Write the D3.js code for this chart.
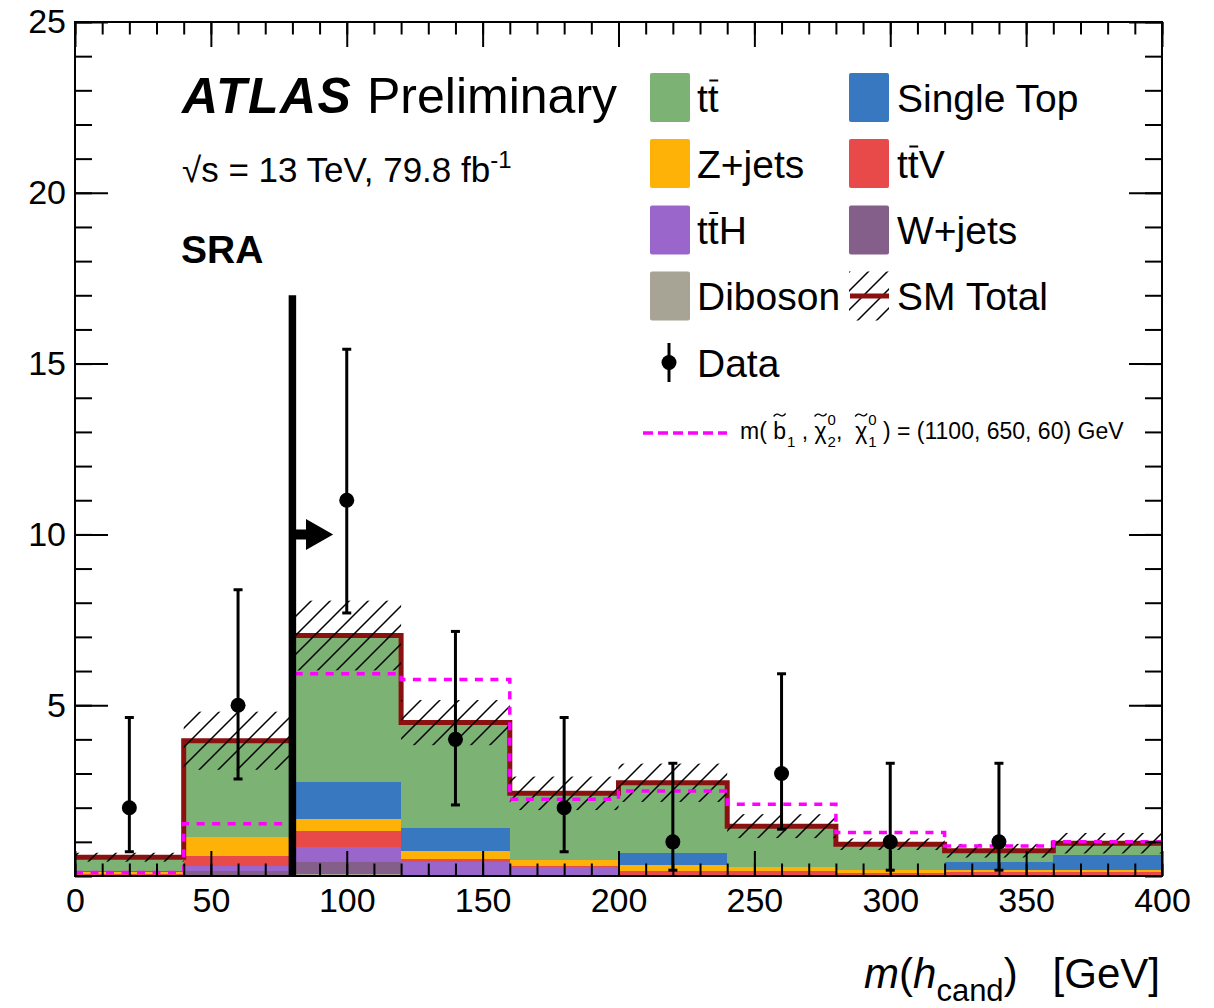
<!DOCTYPE html>
<html><head><meta charset="utf-8">
<script src="https://cdn.jsdelivr.net/npm/d3@7"></script>
<style>
body{margin:0;background:#fff;}
svg{display:block;font-family:"Liberation Sans",Arial,Helvetica,sans-serif;}
text{white-space:pre;}
</style></head><body>
<svg id="c" width="1214" height="1008"></svg>
<script>
// m(h_cand) distribution in SRA, 40 GeV bins
const binEdges  = [0, 40, 80, 120, 160, 200, 240, 280, 320, 360, 400];

// SM backgrounds (events per bin)
const ttbar     = [0.41, 2.81, 4.29, 3.09, 1.95, 2.07, 1.21, 0.74, 0.32, 0.34];
const singleTop = [0.02, 0.00, 1.07, 0.67, 0.00, 0.33, 0.00, 0.00, 0.23, 0.43];
const zjets     = [0.07, 0.56, 0.36, 0.23, 0.19, 0.18, 0.10, 0.10, 0.06, 0.06];
const ttV       = [0.03, 0.31, 0.47, 0.10, 0.03, 0.12, 0.12, 0.07, 0.10, 0.10];
const ttH       = [0.01, 0.13, 0.45, 0.38, 0.23, 0.02, 0.02, 0.01, 0.02, 0.02];
const wjets     = [0.00, 0.13, 0.35, 0.00, 0.00, 0.00, 0.00, 0.00, 0.00, 0.00];
const diboson   = [0.01, 0.02, 0.05, 0.02, 0.02, 0.01, 0.01, 0.01, 0.01, 0.01];
// total SM uncertainty (half width of the hatched band)
const smUnc     = [0.13, 0.85, 1.02, 0.66, 0.49, 0.56, 0.35, 0.17, 0.20, 0.30];

// signal point m(b1, chi2, chi1) = (1100, 650, 60) GeV
const signal    = [0.10, 1.53, 5.92, 5.75, 2.25, 2.49, 2.10, 1.27, 0.88, 1.00];

// observed data with asymmetric Poisson errors (null = empty bin)
const dataCounts  = [2, 5, 11, 4, 2, 1, 3, 1, 1, null];
const dataErrLow  = [1.29, 2.16, 3.30, 1.92, 1.29, 0.83, 1.63, 0.83, 0.83, null];
const dataErrHigh = [2.64, 3.38, 4.42, 3.16, 2.64, 2.30, 2.92, 2.30, 2.30, null];

// selection cut and arrow
const cutValue = 80, cutTop = 17, arrowY = 10, arrowHeadBase = 85, arrowTip = 95;

const xTicksMajor = d3.range(0, 401, 50);
const xTicksMinor = d3.range(0, 401, 10);
const yTicksMajor = [5, 10, 15, 20, 25];
const yTicksMinor = d3.range(0, 26, 1);

const keys = ["diboson", "wjets", "ttH", "ttV", "zjets", "singleTop", "ttbar"];
const series = {ttbar, singleTop, zjets, ttV, ttH, wjets, diboson};
const colors = {
  ttbar: "#7cb274", singleTop: "#3878c0", zjets: "#feb106", ttV: "#e84a4a",
  ttH: "#9a66cc", wjets: "#835f8a", diboson: "#a8a495"
};
const smColor = "#8b1111", sigColor = "#ff00ff";

const svg = d3.select("#c");
const x = d3.scaleLinear().domain([0, 400]).range([75, 1162]);
const y = d3.scaleLinear().domain([0, 25]).range([876, 22]);

const defs = svg.append("defs");
defs.append("clipPath").attr("id", "plot").append("rect")
  .attr("x", x(0)).attr("y", y(25)).attr("width", x(400) - x(0)).attr("height", y(0) - y(25));
const pat = defs.append("pattern").attr("id", "hatch").attr("patternUnits", "userSpaceOnUse")
  .attr("width", 19).attr("height", 19);
pat.append("path").attr("d", "M-2,2 l4,-4 M0,19 l19,-19 M17,21 l4,-4")
  .attr("stroke", "#000").attr("stroke-width", 1.5);

const rows = binEdges.slice(0, -1).map((lo, i) => {
  const r = {lo, hi: binEdges[i + 1]};
  keys.forEach(k => r[k] = series[k][i]);
  return r;
});
const totals = rows.map(r => d3.sum(keys, k => r[k]));

const plot = svg.append("g").attr("clip-path", "url(#plot)");

// stacked backgrounds
const stacked = d3.stack().keys(keys)(rows);
plot.append("g").selectAll("g").data(stacked).join("g")
  .attr("fill", d => colors[d.key])
  .selectAll("rect").data(d => d).join("rect")
  .attr("shape-rendering", "crispEdges")
  .attr("x", d => x(d.data.lo)).attr("width", d => x(d.data.hi) - x(d.data.lo))
  .attr("y", d => y(d[1])).attr("height", d => y(d[0]) - y(d[1]));

// step outline helper
const stepPts = vals => binEdges.map((e, i) => [x(e), y(vals[Math.min(i, vals.length - 1)])]);
const stepLine = d3.line().curve(d3.curveStepAfter);

// SM total line
plot.append("path").attr("d", stepLine(stepPts(totals)))
  .attr("fill", "none").attr("stroke", smColor).attr("stroke-width", 5);

// hatched uncertainty band
plot.append("g").selectAll("rect").data(rows).join("rect")
  .attr("x", d => x(d.lo)).attr("width", d => x(d.hi) - x(d.lo))
  .attr("y", (d, i) => y(totals[i] + smUnc[i]))
  .attr("height", (d, i) => y(totals[i] - smUnc[i]) - y(totals[i] + smUnc[i]))
  .attr("fill", "url(#hatch)");

// signal overlay
plot.append("path").attr("d", stepLine(stepPts(signal)))
  .attr("fill", "none").attr("stroke", sigColor).attr("stroke-width", 3.5)
  .attr("stroke-dasharray", "8,7.5");

// data points
const dataPts = rows.map((r, i) => ({c: (r.lo + r.hi) / 2, n: dataCounts[i], lo: dataErrLow[i], hi: dataErrHigh[i]}))
  .filter(d => d.n !== null);
const dg = plot.append("g");
dg.selectAll("line.err").data(dataPts).join("line").attr("class", "err")
  .attr("x1", d => x(d.c)).attr("x2", d => x(d.c))
  .attr("y1", d => y(d.n - d.lo)).attr("y2", d => y(d.n + d.hi))
  .attr("stroke", "#000").attr("stroke-width", 3);
["lo", "hi"].forEach(side => {
  dg.selectAll("line.cap" + side).data(dataPts).join("line").attr("class", "cap" + side)
    .attr("x1", d => x(d.c) - 4.5).attr("x2", d => x(d.c) + 4.5)
    .attr("y1", d => y(side === "lo" ? d.n - d.lo : d.n + d.hi))
    .attr("y2", d => y(side === "lo" ? d.n - d.lo : d.n + d.hi))
    .attr("stroke", "#000").attr("stroke-width", 3);
});
dg.selectAll("circle").data(dataPts).join("circle")
  .attr("cx", d => x(d.c)).attr("cy", d => y(d.n)).attr("r", 7.5).attr("fill", "#000");

// cut line and arrow
plot.append("line").attr("x1", x(cutValue)).attr("x2", x(cutValue))
  .attr("y1", y(0)).attr("y2", y(cutTop)).attr("stroke", "#000").attr("stroke-width", 7.5);
const ay = y(arrowY);
plot.append("path").attr("fill", "#000").attr("d",
  `M${x(cutValue)},${ay - 5}L${x(arrowHeadBase)},${ay - 5}L${x(arrowHeadBase)},${ay - 15.5}` +
  `L${x(arrowTip)},${ay}L${x(arrowHeadBase)},${ay + 15.5}L${x(arrowHeadBase)},${ay + 5}L${x(cutValue)},${ay + 5}Z`);

// axes
const axG = svg.append("g");
function styleAxis(g) {
  g.select(".domain").remove();
  g.selectAll(".tick line").attr("stroke", "#000").attr("stroke-width", 2);
  g.selectAll(".tick text").attr("fill", "#000").attr("font-size", 34)
    .attr("font-family", "Liberation Sans, Arial, sans-serif");
}
axG.append("g").attr("transform", `translate(0,${y(0)})`)
  .call(d3.axisBottom(x).tickValues(xTicksMajor).tickSize(-25).tickPadding(12).tickFormat(d3.format("d")))
  .call(styleAxis);
axG.append("g").attr("transform", `translate(0,${y(0)})`)
  .call(d3.axisBottom(x).tickValues(xTicksMinor).tickSize(-12.5).tickFormat("")).call(styleAxis);
axG.append("g").attr("transform", `translate(0,${y(25)})`)
  .call(d3.axisTop(x).tickValues(xTicksMajor).tickSize(-25).tickFormat("")).call(styleAxis);
axG.append("g").attr("transform", `translate(0,${y(25)})`)
  .call(d3.axisTop(x).tickValues(xTicksMinor).tickSize(-12.5).tickFormat("")).call(styleAxis);
axG.append("g").attr("transform", `translate(${x(0)},0)`)
  .call(d3.axisLeft(y).tickValues(yTicksMajor).tickSize(-33).tickPadding(9).tickFormat(d3.format("d")))
  .call(styleAxis);
axG.append("g").attr("transform", `translate(${x(0)},0)`)
  .call(d3.axisLeft(y).tickValues(yTicksMinor).tickSize(-17).tickFormat("")).call(styleAxis);
axG.append("g").attr("transform", `translate(${x(400)},0)`)
  .call(d3.axisRight(y).tickValues(yTicksMajor).tickSize(-33).tickFormat("")).call(styleAxis);
axG.append("g").attr("transform", `translate(${x(400)},0)`)
  .call(d3.axisRight(y).tickValues(yTicksMinor).tickSize(-17).tickFormat("")).call(styleAxis);
svg.append("rect").attr("x", x(0)).attr("y", y(25)).attr("width", x(400) - x(0)).attr("height", y(0) - y(25))
  .attr("fill", "none").attr("stroke", "#000").attr("stroke-width", 2);

// axis title
const xt = svg.append("text").attr("x", 1160).attr("y", 988).attr("text-anchor", "end").attr("font-size", 42);
xt.append("tspan").attr("font-style", "italic").text("m");
xt.append("tspan").text("(");
xt.append("tspan").attr("font-style", "italic").text("h");
xt.append("tspan").attr("font-size", 31).attr("dy", 13).text("cand");
xt.append("tspan").attr("dy", -13).text(")   [GeV]");

// ATLAS label
svg.append("text").attr("x", 182).attr("y", 113).attr("font-size", 50).attr("letter-spacing", 1.5)
  .attr("font-weight", "bold").attr("font-style", "italic").text("ATLAS");
svg.append("text").attr("x", 367).attr("y", 113).attr("font-size", 50).text("Preliminary");
const lum = svg.append("text").attr("x", 182).attr("y", 182).attr("font-size", 35);
lum.append("tspan").text("√s = 13 TeV, 79.8 fb");
lum.append("tspan").attr("font-size", 24).attr("dy", -14).text("-1");
svg.append("text").attr("x", 181).attr("y", 263).attr("font-size", 39).attr("font-weight", "bold").text("SRA");

// legend
const leg = svg.append("g");
const legRows = [97.5, 163.5, 230, 296, 362.5];
const colBox = [650, 849], colText = [697, 897];
const legItems = [
  {label: "tt", bar: 1, key: "ttbar", col: 0, row: 0},
  {label: "Single Top", key: "singleTop", col: 1, row: 0},
  {label: "Z+jets", key: "zjets", col: 0, row: 1},
  {label: "ttV", bar: 1, key: "ttV", col: 1, row: 1},
  {label: "ttH", bar: 1, key: "ttH", col: 0, row: 2},
  {label: "W+jets", key: "wjets", col: 1, row: 2},
  {label: "Diboson", key: "diboson", col: 0, row: 3},
  {label: "SM Total", key: "sm", col: 1, row: 3},
  {label: "Data", key: "data", col: 0, row: 4}
];
legItems.forEach(it => {
  const cy = legRows[it.row], bx = colBox[it.col];
  if (colors[it.key]) {
    leg.append("rect").attr("x", bx).attr("y", cy - 24.5).attr("width", 40).attr("height", 49)
      .attr("rx", 2).attr("fill", colors[it.key]);
  } else if (it.key === "sm") {
    leg.append("rect").attr("x", bx).attr("y", cy - 24.5).attr("width", 40).attr("height", 49)
      .attr("fill", "url(#hatch)");
    leg.append("line").attr("x1", bx + 1).attr("x2", bx + 40).attr("y1", cy).attr("y2", cy)
      .attr("stroke", smColor).attr("stroke-width", 5);
  } else if (it.key === "data") {
    leg.append("line").attr("x1", bx + 19).attr("x2", bx + 19).attr("y1", cy - 19.5).attr("y2", cy + 19.5)
      .attr("stroke", "#000").attr("stroke-width", 3);
    leg.append("circle").attr("cx", bx + 19).attr("cy", cy).attr("r", 7.5).attr("fill", "#000");
  }
  const t = leg.append("text").attr("x", colText[it.col]).attr("y", cy + 14).attr("font-size", 39).text(it.label);
  if (it.bar) {
    const n = t.node();
    const sx = colText[it.col] + n.getSubStringLength(0, 1);
    const w = n.getSubStringLength(1, 1);
    leg.append("line").attr("x1", sx + 1.5).attr("x2", sx + w - 0.5)
      .attr("y1", cy - 17).attr("y2", cy - 17).attr("stroke", "#000").attr("stroke-width", 2);
  }
});

// signal legend entry
leg.append("line").attr("x1", 643).attr("x2", 727).attr("y1", 433).attr("y2", 433)
  .attr("stroke", sigColor).attr("stroke-width", 3.5).attr("stroke-dasharray", "10,5");
(function sigLabel(x0, base) {
  const fs = 23, ss = 15;
  let cx = x0;
  const pieces = [
    {t: "m( "}, {t: "b", tilde: 1}, {sub: "1"}, {t: " , "}, {t: "χ", tilde: 1}, {sup: "0", sub: "2"},
    {t: ",  "}, {t: "χ", tilde: 1}, {sup: "0", sub: "1"}, {t: " ) = (1100, 650, 60) GeV"}
  ];
  pieces.forEach(p => {
    if (p.t) {
      const e = leg.append("text").attr("x", cx).attr("y", base).attr("font-size", fs).text(p.t);
      const w = e.node().getComputedTextLength();
      if (p.tilde) {
        const mx = cx + w / 2, ty = base - 24;
        leg.append("path").attr("d", `M${mx - 6},${ty + 1.5} q3,-4 6,-1.5 t6,-1.5`)
          .attr("fill", "none").attr("stroke", "#000").attr("stroke-width", 1.3);
      }
      cx += w;
    } else {
      let w = 0;
      if (p.sup) {
        const e = leg.append("text").attr("x", cx + 1).attr("y", base - 14).attr("font-size", ss).text(p.sup);
        w = Math.max(w, e.node().getComputedTextLength());
      }
      if (p.sub) {
        const e = leg.append("text").attr("x", cx + 1).attr("y", base + 8).attr("font-size", ss).text(p.sub);
        w = Math.max(w, e.node().getComputedTextLength());
      }
      cx += w + 1;
    }
  });
})(740, 439);
</script>
</body></html>
